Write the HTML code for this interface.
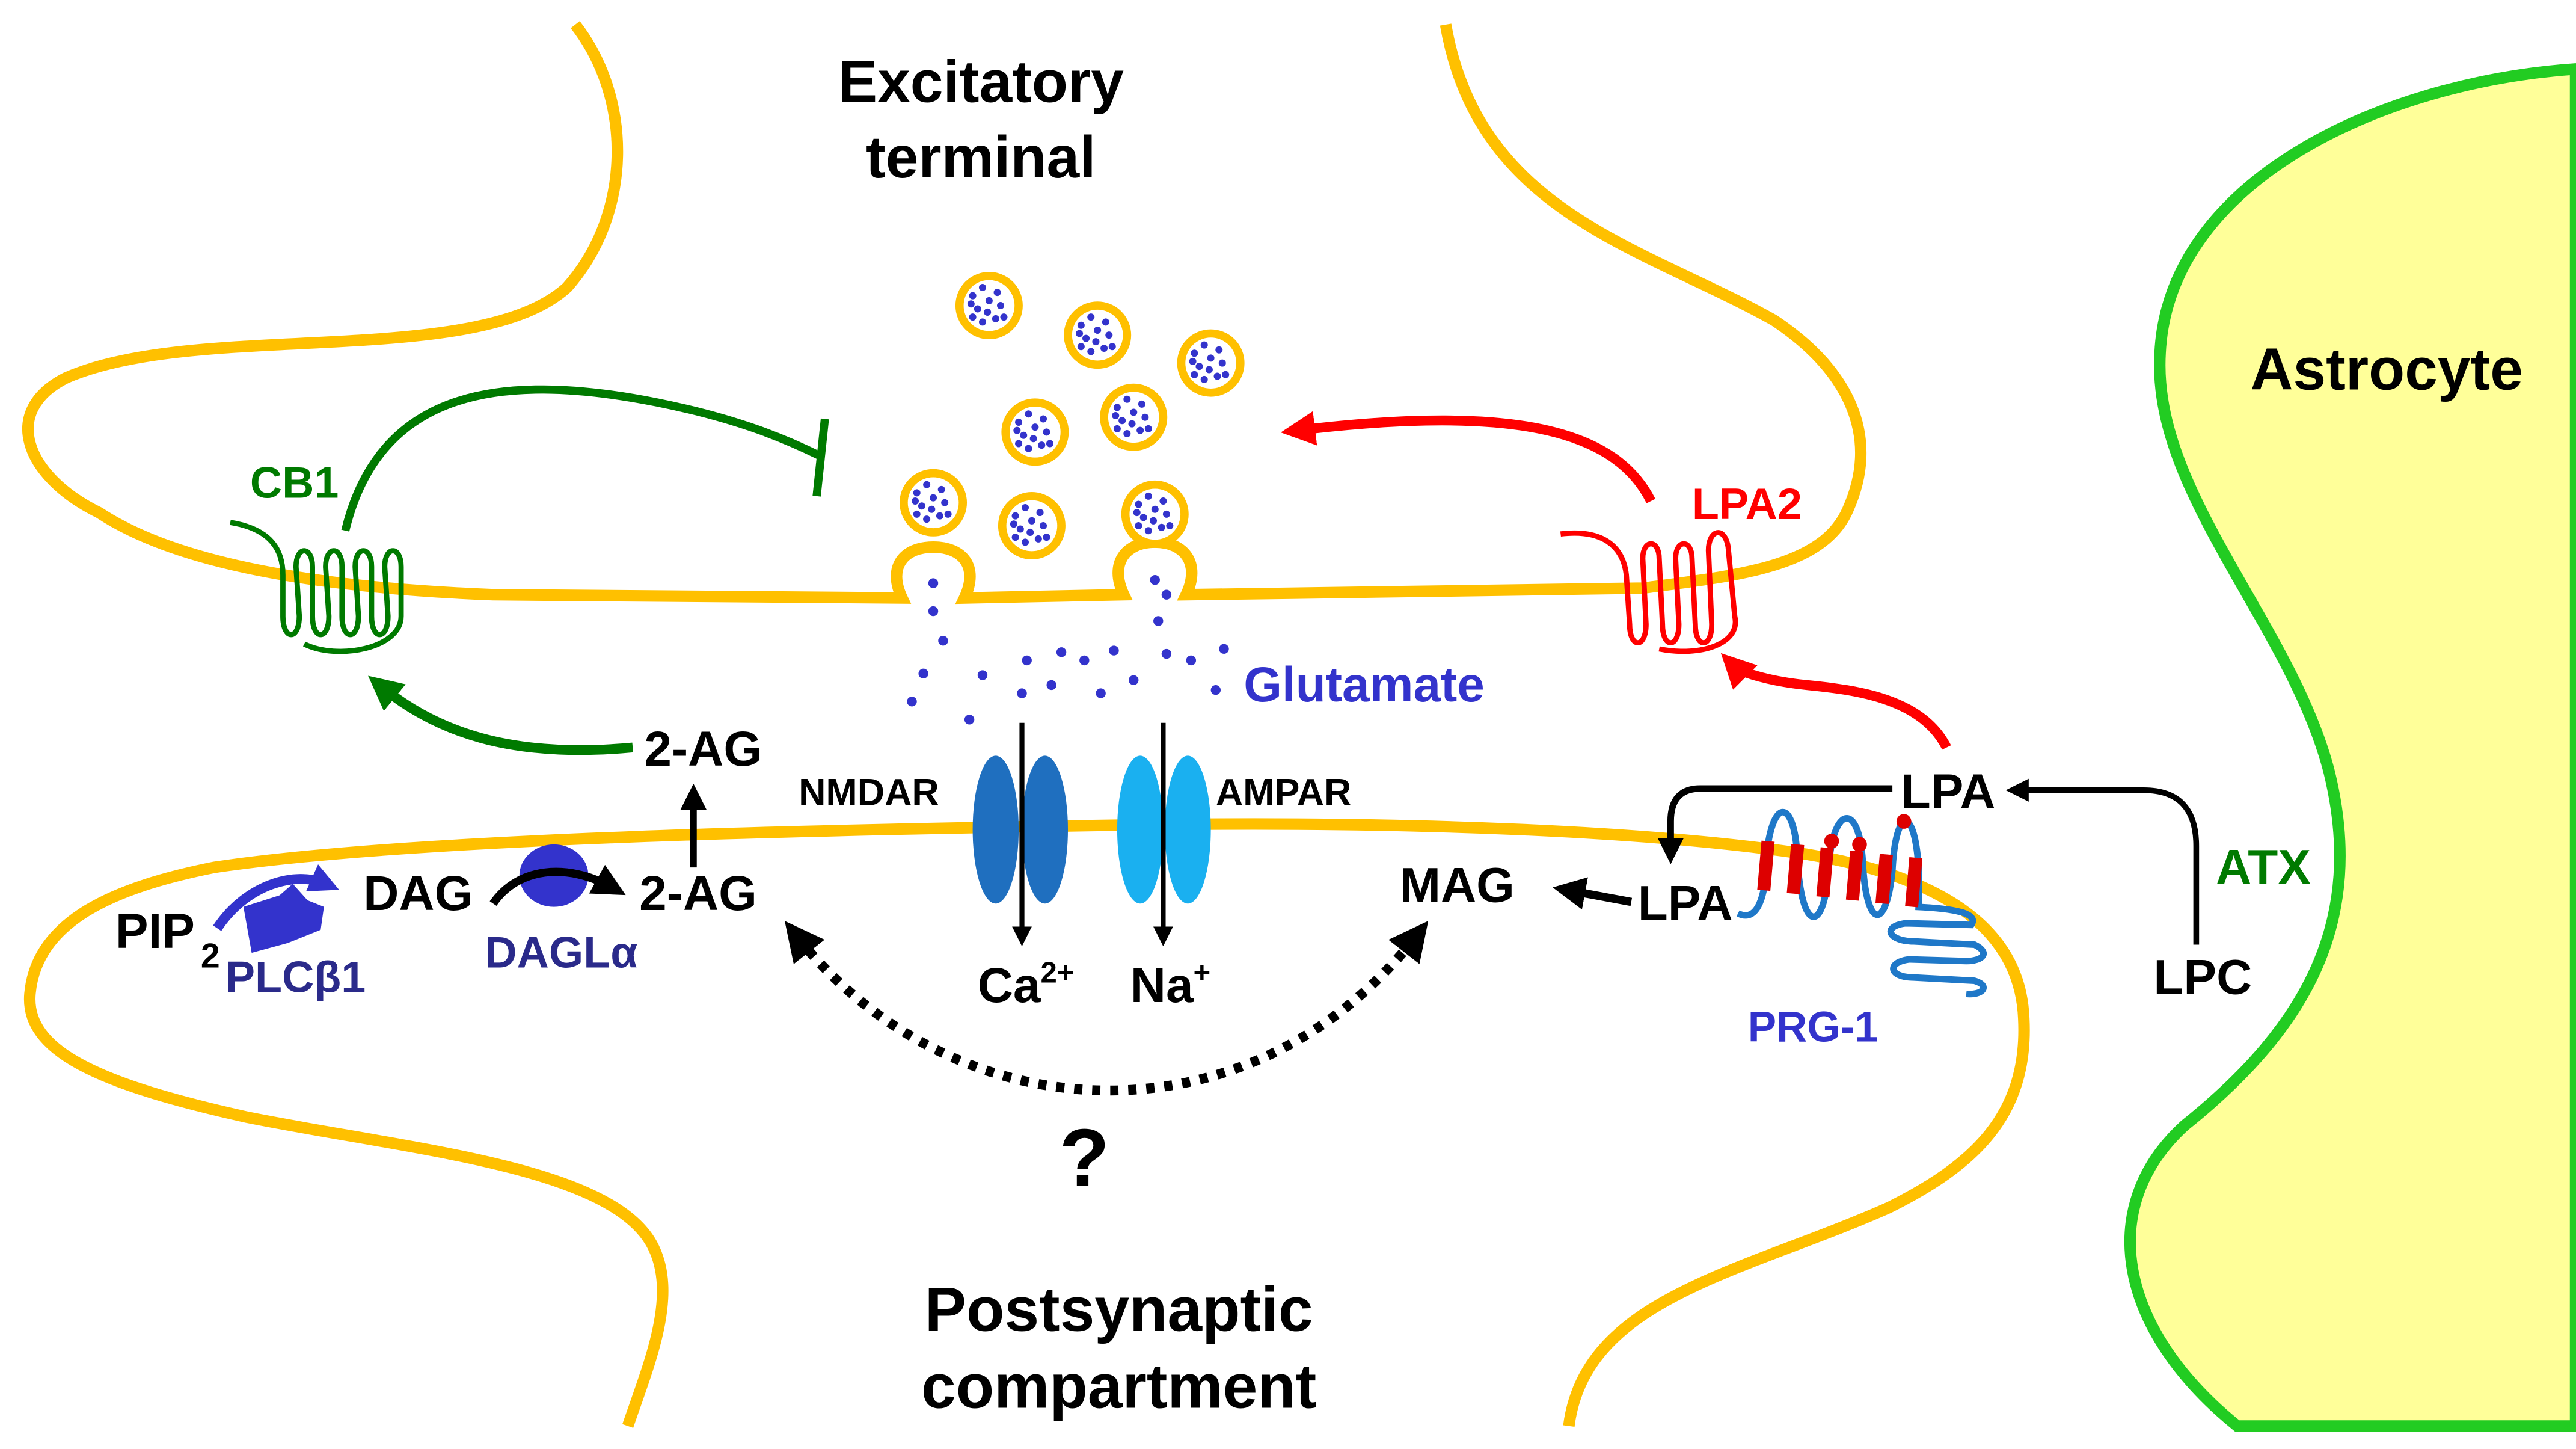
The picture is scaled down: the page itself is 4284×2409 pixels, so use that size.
<!DOCTYPE html>
<html><head><meta charset="utf-8"><style>
html,body{margin:0;padding:0;background:#fff}
svg{display:block}
text{font-family:"Liberation Sans",sans-serif;font-weight:bold}
</style></head><body>
<svg width="4284" height="2409" viewBox="0 0 1568 882" xmlns="http://www.w3.org/2000/svg">
<defs>
<marker id="ab" viewBox="0 0 10 10" refX="5" refY="5" markerWidth="4" markerHeight="4" orient="auto-start-reverse"><path d="M0,0L10,5L0,10z" fill="#000"/></marker>
<marker id="ag" viewBox="0 0 10 10" refX="5" refY="5" markerWidth="3.5" markerHeight="3.5" orient="auto"><path d="M0,0L10,5L0,10z" fill="#007a00"/></marker>
<marker id="ar" viewBox="0 0 10 10" refX="5" refY="5" markerWidth="3.5" markerHeight="3.5" orient="auto"><path d="M0,0L10,5L0,10z" fill="#ff0000"/></marker>
<marker id="abl" viewBox="0 0 10 10" refX="5" refY="5" markerWidth="3" markerHeight="3" orient="auto"><path d="M0,0L10,5L0,10z" fill="#3333cc"/></marker>
<g id="ves">
<circle r="18" fill="#fff" stroke="#ffc000" stroke-width="5"/>
<g fill="#3333cc">
<circle cx="-4" cy="-11" r="2.2"/><circle cx="5" cy="-8" r="2.2"/><circle cx="-10" cy="-6" r="2.2"/><circle cx="0" cy="-3" r="2.2"/><circle cx="7" cy="0" r="2.2"/><circle cx="-7" cy="2" r="2.2"/><circle cx="-1" cy="4" r="2.2"/><circle cx="-10" cy="7" r="2.2"/><circle cx="4" cy="8" r="2.2"/><circle cx="-4" cy="10" r="2.2"/><circle cx="9" cy="7" r="2.2"/><circle cx="-11" cy="-1" r="2.2"/>
</g></g>
</defs>

<!-- Astrocyte -->
<path d="M1568,42 C1450,50 1320,110 1315,215 C1310,300 1395,380 1418,470 C1440,560 1405,625 1330,685 C1275,735 1290,810 1362,868 L1568,868 Z" fill="#ffff99" stroke="#22cc22" stroke-width="7"/>

<!-- Presynaptic membrane -->
<path d="M350,15 C385,60 385,130 345,175 C290,225 120,195 40,230 C0,250 15,290 60,312 C110,345 200,358 300,362 L549,364 C540,345 550,333 568,333 C586,333 596,345 587,364 L684,362 C675,343 685,330 703,330 C721,330 731,343 722,362 L1000,358 C1060,350 1110,345 1125,310 C1145,265 1125,225 1080,195 C1000,150 900,130 880,15" fill="none" stroke="#ffc000" stroke-width="7"/>

<!-- Postsynaptic membrane -->
<path d="M382,868 C395,830 412,790 398,760 C375,710 250,700 150,680 C60,660 15,640 18,605 C22,560 70,540 130,528 C250,510 500,505 700,502 C850,500 1000,505 1100,520 C1190,535 1230,570 1232,620 C1235,680 1200,710 1150,735 C1060,775 965,790 955,868" fill="none" stroke="#ffc000" stroke-width="7"/>

<!-- vesicles -->
<use href="#ves" x="602" y="186"/><use href="#ves" x="668" y="204"/><use href="#ves" x="737" y="221"/>
<use href="#ves" x="630" y="263"/><use href="#ves" x="690" y="254"/>
<use href="#ves" x="568" y="306"/><use href="#ves" x="628" y="320"/><use href="#ves" x="703" y="313"/>

<!-- glutamate dots -->
<g fill="#3333cc">
<circle cx="568" cy="355" r="3"/><circle cx="568" cy="372" r="3"/><circle cx="703" cy="353" r="3"/><circle cx="710" cy="362" r="3"/><circle cx="705" cy="378" r="3"/>
<circle cx="574" cy="390" r="3"/><circle cx="562" cy="410" r="3"/><circle cx="555" cy="427" r="3"/><circle cx="598" cy="411" r="3"/><circle cx="625" cy="402" r="3"/><circle cx="646" cy="397" r="3"/><circle cx="660" cy="402" r="3"/><circle cx="678" cy="396" r="3"/>
<circle cx="640" cy="417" r="3"/><circle cx="622" cy="422" r="3"/><circle cx="690" cy="414" r="3"/><circle cx="710" cy="398" r="3"/><circle cx="725" cy="402" r="3"/><circle cx="745" cy="395" r="3"/><circle cx="740" cy="420" r="3"/><circle cx="590" cy="438" r="3"/><circle cx="670" cy="422" r="3"/>
</g>

<!-- channels -->
<ellipse cx="606" cy="505" rx="14" ry="45" fill="#1f6fbf"/><ellipse cx="636" cy="505" rx="14" ry="45" fill="#1f6fbf"/>
<ellipse cx="694" cy="505" rx="14" ry="45" fill="#1ab0f0"/><ellipse cx="723" cy="505" rx="14" ry="45" fill="#1ab0f0"/>
<line x1="622" y1="440" x2="622" y2="570" stroke="#000" stroke-width="3" marker-end="url(#ab)"/>
<line x1="708" y1="440" x2="708" y2="570" stroke="#000" stroke-width="3" marker-end="url(#ab)"/>

<!-- CB1 -->
<g fill="none" stroke="#007a00" stroke-width="3.2">
<path d="M140,318 C165,322 172,335 172,350 L172,375 C172,390 182,390 182,375 L180,345 C180,332 190,332 190,345 L190,375 C190,390 200,390 200,375 L198,345 C198,332 208,332 208,345 L208,375 C208,390 218,390 218,375 L216,345 C216,332 226,332 226,345 L226,375 C226,390 236,390 236,375 L234,345 C234,332 244,332 244,345 L244,375 C244,395 205,402 185,392"/>
</g>
<path d="M210,323 C230,240 300,225 400,245 C450,255 480,268 500,278" fill="none" stroke="#007a00" stroke-width="5"/>
<line x1="502" y1="255" x2="497" y2="302" stroke="#007a00" stroke-width="5"/>
<path d="M385,455 C310,462 265,445 232,418" fill="none" stroke="#007a00" stroke-width="6" marker-end="url(#ag)"/>

<!-- LPA2 -->
<g fill="none" stroke="#ff0000" stroke-width="3.2">
<path d="M950,325 C975,322 988,332 990,350 L992,380 C992,395 1002,395 1002,380 L1000,340 C1000,328 1010,328 1010,340 L1012,380 C1012,395 1022,395 1022,380 L1020,340 C1020,328 1030,328 1030,340 L1032,380 C1032,395 1042,395 1042,380 L1040,335 C1040,322 1050,320 1052,333 L1056,375 C1060,392 1035,400 1010,395"/>
</g>
<path d="M1005,305 C985,265 930,245 790,262" fill="none" stroke="#ff0000" stroke-width="6" marker-end="url(#ar)"/>
<path d="M1185,455 C1170,425 1130,420 1100,417 C1080,415 1060,410 1055,405" fill="none" stroke="#ff0000" stroke-width="6" marker-end="url(#ar)"/>

<!-- PRG-1 -->
<g fill="none" stroke="#1f78c8" stroke-width="4">
<path d="M1058,556 C1070,562 1075,545 1075,525 C1078,485 1092,485 1094,520 C1096,565 1108,568 1112,540 L1114,520 C1118,490 1132,490 1134,525 C1136,565 1148,568 1152,530 C1154,490 1166,490 1168,530 L1168,552"/>
<path d="M1166,552 C1190,553 1205,556 1200,563 L1160,562 C1145,564 1150,573 1165,573 L1202,575 C1212,580 1207,585 1197,585 L1162,584 C1148,586 1150,595 1165,595 L1202,597 C1212,600 1207,606 1197,605"/>
</g>
<g fill="#dd0000">
<rect x="1071" y="512" width="8" height="30" transform="rotate(5 1075 527)"/>
<rect x="1089" y="514" width="8" height="30" transform="rotate(5 1093 529)"/>
<rect x="1107" y="516" width="8" height="30" transform="rotate(5 1111 531)"/>
<rect x="1125" y="518" width="8" height="30" transform="rotate(5 1129 533)"/>
<rect x="1143" y="520" width="8" height="30" transform="rotate(5 1147 535)"/>
<rect x="1161" y="522" width="8" height="30" transform="rotate(5 1165 537)"/>
<circle cx="1115" cy="512" r="4.5"/><circle cx="1132" cy="514" r="4.5"/><circle cx="1159" cy="500" r="4.5"/>
</g>

<!-- black arrows right -->
<path d="M1152,480 L1035,480 Q1017,480 1017,500 L1017,518" fill="none" stroke="#000" stroke-width="4" marker-end="url(#ab)"/>
<path d="M1337,575 L1337,515 Q1337,481 1305,481 L1228,481" fill="none" stroke="#000" stroke-width="3.5" marker-end="url(#ab)"/>
<line x1="993" y1="549" x2="955" y2="542" stroke="#000" stroke-width="5" marker-end="url(#ab)"/>

<!-- left pathway -->
<line x1="422" y1="528" x2="422" y2="485" stroke="#000" stroke-width="4" marker-end="url(#ab)"/>
<ellipse cx="337" cy="533" rx="21" ry="19" fill="#3333cc"/>
<path d="M300,550 C315,528 345,525 372,540" fill="none" stroke="#000" stroke-width="5" marker-end="url(#ab)"/>
<path d="M132,565 C150,538 180,530 198,538" fill="none" stroke="#3333cc" stroke-width="6" marker-end="url(#abl)"/>
<path d="M148,552 L170,545 L178,538 L187,548 L197,552 L195,566 L175,574 L153,580 Z" fill="#3333cc"/>

<!-- dotted arc -->
<path d="M485,570 C580,690 760,700 862,570" fill="none" stroke="#000" stroke-width="6" stroke-dasharray="5,6" marker-start="url(#ab)" marker-end="url(#ab)"/>

<!-- Text -->
<text x="597" y="62" font-size="36" text-anchor="middle">Excitatory</text>
<text x="597" y="108" font-size="36" text-anchor="middle">terminal</text>
<text x="152" y="303" font-size="27" fill="#007a00">CB1</text>
<text x="1030" y="316" font-size="27" fill="#ff0000">LPA2</text>
<text x="757" y="427" font-size="30" fill="#3333cc">Glutamate</text>
<text x="392" y="466" font-size="30">2-AG</text>
<text x="486" y="490" font-size="23" font-weight="normal">NMDAR</text>
<text x="740" y="490" font-size="23" font-weight="normal">AMPAR</text>
<text x="70" y="577" font-size="30">PIP</text>
<text x="122" y="589" font-size="21">2</text>
<text x="137" y="604" font-size="27" fill="#2a2a8a" font-weight="normal">PLCβ1</text>
<text x="221" y="554" font-size="30">DAG</text>
<text x="295" y="589" font-size="27" fill="#2a2a8a" font-weight="normal">DAGLα</text>
<text x="389" y="554" font-size="30">2-AG</text>
<text x="852" y="549" font-size="30">MAG</text>
<text x="997" y="560" font-size="30">LPA</text>
<text x="1157" y="492" font-size="30">LPA</text>
<text x="1349" y="538" font-size="30" fill="#007a00">ATX</text>
<text x="1311" y="605" font-size="30">LPC</text>
<text x="1064" y="634" font-size="26" fill="#3333cc" font-weight="normal">PRG-1</text>
<text x="595" y="610" font-size="30">Ca<tspan font-size="18" dy="-12">2+</tspan></text>
<text x="688" y="610" font-size="30">Na<tspan font-size="18" dy="-12">+</tspan></text>
<text x="660" y="722" font-size="50" text-anchor="middle">?</text>
<text x="681" y="810" font-size="38" text-anchor="middle">Postsynaptic</text>
<text x="681" y="857" font-size="38" text-anchor="middle">compartment</text>
<text x="1453" y="237" font-size="36" text-anchor="middle">Astrocyte</text>
</svg>
</body></html>
